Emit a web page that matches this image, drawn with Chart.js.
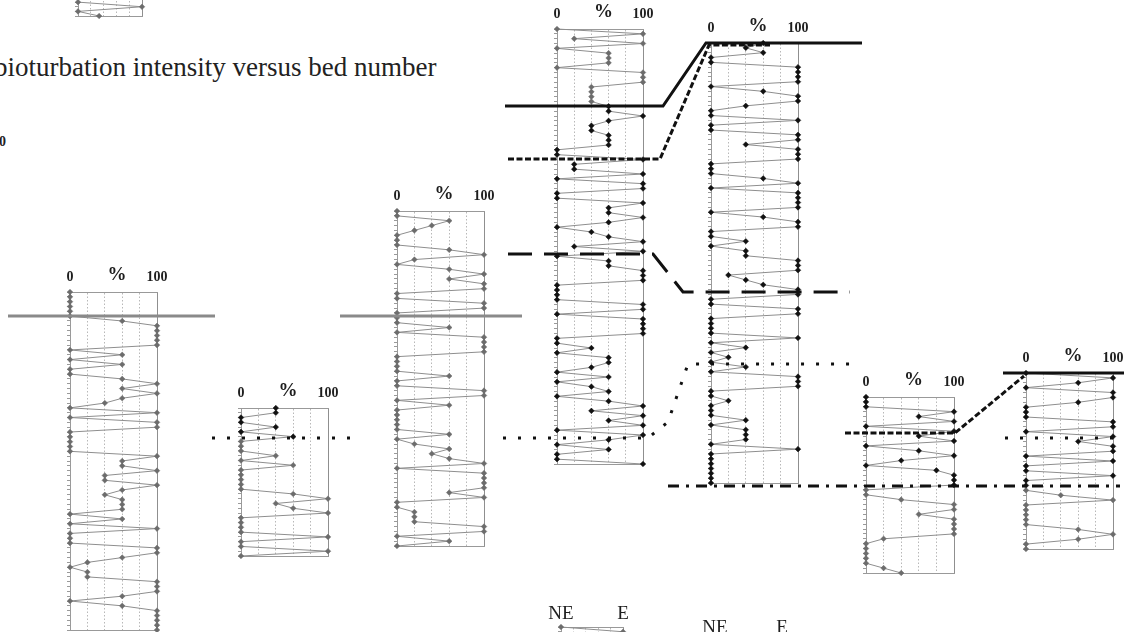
<!DOCTYPE html>
<html>
<head>
<meta charset="utf-8">
<script src="https://cdn.jsdelivr.net/npm/chart.js@4.4.0/dist/chart.umd.min.js"></script>
<style>
  body { margin: 0; background: #fff; }
  #page { position: relative; width: 1126px; height: 632px; overflow: hidden; background: #fff; }
  .panel { position: absolute; }
  #overlay { position: absolute; left: 0; top: 0; z-index: 5; pointer-events: none; }
  .txt { position: absolute; font-family: 'Liberation Serif', serif; color: #222; white-space: nowrap; }
</style>
</head>
<body>
<div id="page">
  <div class="txt" style="left:-6px; top:54px; font-size:27px; line-height:27px;">bioturbation intensity versus bed number</div>
  <div class="txt" style="left:-1px; top:135px; font-size:14px; line-height:14px; font-weight:bold;">0</div>
  <canvas id="overlay" width="1126" height="632"></canvas>
</div>
<script>
// bioturbation % per bed, top bed first
var bed1 = [0,0,0,0,0,0, 60,100,100,100,100,100, 0,60,0,60,0,0, 60,100,60,100,60,40,
  0,100,0,100,100, 0,0,0,0,0, 100,60,60,100,40,40, 100,60,40,60,60,60, 0,60,0,100,0,0,
  0,100,100,60,20,0, 20,20,100,100,100,60, 0,60,100,100,100,100, 100]
var bed2 = [40,40,0,0,40,0,60,0,0,0,40,0,60,0,0,0,0,0,60,100,40,60,100,0,0,0,0,100,0,0,100,0]
var bed3 = [0,0,60,40,20,0,0,0,60,100, 20,0,60,100,60,100,100,0,0,100, 100,0,0,0,60,0,100,100,100,100,
  0,0,0,0,60,0,0,100,100,0, 60,0,0,0,0,0,60,0,20,60, 40,60,100,0,100,100,100,100,60,100,
  0,0,20,20,20,100,100,0,60,0]
var bed4 = [0,100,20,100,0,60,60,60,0,100,100, 100,40,40,40,40,60,60,100,60,40,
  40,60,60,60,0,0,100,20,20,100, 0,100,100,0,0,100,60,60,100,60, 0,40,60,100,20,100,0,60,60,100,
  100,100,0,0,0,0,100,100,0,100, 100,100,100,0,0,40,0,60,60,40, 0,60,0,40,60,0,60,100,40,100,
  60,100,0,100,60,0,60,0,0,100]
var bed5 = [60,40,60,0,0,100,100,100,100,0, 60,100,100,40,0,0,100,0,0,100, 100,40,100,100,100,0,0,0,60,100,
  0,100,100,100,100,0,60,100,100,0, 0,40,0,40,40,100,100,100,20,40, 60,100,100,0,0,100,100,0,0,0,
  0,100,0,40,0,20,0,40,0,100, 100,100,0,0,20,0,0,0,40,0, 40,40,40,0,100,0,0,0,0,0, 0,0]
var bed6 = [0,0,0,100,60,100,0,100,60,100, 0,60,100,40,0,80,100,100,100,0, 0,40,100,100,60,100,100,100,100,20,
  0,0,0,0,0,20,40]
var bed7 = [0,100,60,0,100,100,60,0,0,0, 100,100,0,100,60,100,100,0,100,0, 0,100,0,0,0,40,100,0,0,0,
  0,0,60,100,60,0,0]
var bedCutTop = [0,100,0,33]
var bedCutBottom = [0,100]

// tick labels along the top of each log
var pctLabels = ['0', '%', '100']
var sideLabels = ['NE', '', 'E']
var tickValues = [0, 20, 40, 54, 60, 80, 100]

// correlation lines, in page units (x across, y down)
var corrSolidUpper = [[505,106],[663,106],[706,43],[862,43]]
var corrShortDashUpper = [[508,159],[660,159],[709,45],[770,45]]
var corrLongDash = [[508,254],[653,254],[683,292],[850,292]]
var corrGrayLeft = [[8,316],[215,316]]
var corrGrayMid = [[340,316],[522,316]]
var corrDotsLeft = [[212,438],[356,438]]
var corrDotsMid = [[503,438],[648,438],[668,422],[688,364],[856,364]]
var corrDotsRight = [[1005,438],[1120,438]]
var corrShortDashLower = [[845,433],[955,433],[1024,376]]
var corrSolidLower = [[1003,373],[1124,373]]
var corrDashDot = [[668,486],[1120,486]]

Chart.defaults.font.family = "'Liberation Serif', serif"

var PAD_L = 14, PAD_R = 18, PAD_B = 6, AXIS_W = 4, AXIS_H = 36
var page = document.getElementById('page')
var overlay = document.getElementById('overlay')

var pctFont = function (ctx) {
    if (ctx.tick && ctx.tick.value == 54) return { family: "'Liberation Serif', serif", size: 19, weight: 'bold' }
    return { family: "'Liberation Serif', serif", size: 14, weight: 'bold' }
}
var sideFont = function () { return { family: "'Liberation Serif', serif", size: 19 } }

function gridColor(ctx) {
    var v = ctx.tick ? ctx.tick.value : -1
    if (v == 100) return '#8f8f8f'
    if (v == 20 || v == 40 || v == 60 || v == 80) return '#b8b8b8'
    return 'rgba(0,0,0,0)'
}
function gridDash(ctx) {
    var v = ctx.tick ? ctx.tick.value : -1
    if (v == 100 || v < 0) return []
    return [1.5, 2]
}

function addLog(p) {
    var yMin = p.yMin != null ? p.yMin : 0
    var yMax = p.yMax != null ? p.yMax : p.values.length - 1
    var cv = document.createElement('canvas')
    cv.className = 'panel'
    cv.width = Math.round(PAD_L + AXIS_W + p.width + PAD_R)
    cv.height = Math.round(AXIS_H + p.height + PAD_B)
    cv.style.left = (p.left - PAD_L - AXIS_W) + 'px'
    cv.style.top = (p.top - AXIS_H) + 'px'
    page.insertBefore(cv, overlay)

    var pts = p.values.map(function (v, i) { return { x: v, y: i } })
    var beds = []
    for (var b = Math.ceil(yMin); b <= yMax; b++) beds.push({ value: b })
    var markColor = function (ctx) {
        return (ctx.dataIndex >= p.dark[0] && ctx.dataIndex <= p.dark[1]) ? '#111' : '#6c6c6c'
    }

    new Chart(cv, {
        type: 'scatter',
        data: {
            datasets: [{
                data: pts,
                showLine: true,
                borderColor: '#8e8e8e',
                borderWidth: 1,
                pointStyle: 'rectRot',
                pointRadius: 2.8,
                pointBackgroundColor: markColor,
                pointBorderColor: markColor,
                pointBorderWidth: 0.5,
                clip: false
            }]
        },
        options: {
            responsive: false,
            animation: false,
            events: [],
            layout: { padding: { left: PAD_L, right: PAD_R, top: 0, bottom: PAD_B } },
            plugins: { legend: { display: false }, tooltip: { enabled: false } },
            scales: {
                x: {
                    type: 'linear', position: 'top', min: 0, max: 100,
                    afterBuildTicks: function (s) { s.ticks = tickValues.map(function (v) { return { value: v } }) },
                    afterFit: function (s) { s.height = AXIS_H; s.paddingLeft = 0; s.paddingRight = 0 },
                    ticks: {
                        autoSkip: false, maxRotation: 0, minRotation: 0, crossAlign: 'near',
                        padding: p.labelPad, color: '#1e1e1e', font: p.font,
                        callback: function (v) {
                            if (v == 0) return p.labels[0]
                            if (v == 54) return p.labels[1]
                            if (v == 100) return p.labels[2]
                            return ''
                        }
                    },
                    grid: { drawTicks: false, color: gridColor, lineWidth: 1 },
                    border: { display: true, color: '#999', width: 1, dash: gridDash }
                },
                xb: {
                    type: 'linear', axis: 'x', position: 'bottom', min: 0, max: 100,
                    afterFit: function (s) { s.height = 0 },
                    ticks: { display: false },
                    grid: { display: false },
                    border: { display: true, color: '#999', width: 1 }
                },
                y: {
                    type: 'linear', reverse: true, min: yMin, max: yMax,
                    afterBuildTicks: function (s) { s.ticks = beds },
                    afterFit: function (s) { s.width = AXIS_W },
                    ticks: { display: false },
                    grid: { drawOnChartArea: false, drawTicks: true, tickLength: 3, color: '#9a9a9a' },
                    border: { color: '#9a9a9a', width: 1 }
                }
            }
        }
    })
}

var logs = [
    { values: bed1, left: 70, top: 292, width: 87, height: 338, dark: [-1, -1] },
    { values: bed2, left: 241, top: 408, width: 87, height: 148, dark: [0, 6] },
    { values: bed3, left: 397, top: 211, width: 87, height: 335, dark: [-1, -1] },
    { values: bed4, left: 557, top: 29, width: 85.5, height: 435, dark: [16, 200] },
    { values: bed5, left: 711, top: 43, width: 87, height: 440, dark: [0, 200] },
    { values: bed6, left: 866, top: 397, width: 88, height: 176, dark: [0, 18] },
    { values: bed7, left: 1026, top: 373, width: 87, height: 176, dark: [0, 23] }
]
logs.forEach(function (p) {
    p.labels = pctLabels; p.font = pctFont; p.labelPad = 6
    addLog(p)
})
// cut-off logs at the page edges
addLog({ values: bedCutTop, yMin: -5, yMax: 3, left: 78, top: -21, width: 64, height: 36.8,
    dark: [-1, -1], labels: pctLabels, font: pctFont, labelPad: 6 })
addLog({ values: bedCutBottom, yMin: 0, yMax: 4, left: 561, top: 627, width: 62, height: 19.2,
    dark: [-1, -1], labels: sideLabels, font: sideFont, labelPad: 2 })
addLog({ values: [], yMin: 0, yMax: 4, left: 715, top: 641, width: 67, height: 19.2,
    dark: [-1, -1], labels: sideLabels, font: sideFont, labelPad: 2 })

var corrStyles = [
    { pts: corrSolidUpper, color: '#111', dash: [] },
    { pts: corrShortDashUpper, color: '#111', dash: [6, 2.5] },
    { pts: corrLongDash, color: '#111', dash: [24, 12] },
    { pts: corrGrayLeft, color: '#8a8a8a', dash: [] },
    { pts: corrGrayMid, color: '#8a8a8a', dash: [] },
    { pts: corrDotsLeft, color: '#111', dash: [3, 12] },
    { pts: corrDotsMid, color: '#111', dash: [3, 12] },
    { pts: corrDotsRight, color: '#111', dash: [3, 12] },
    { pts: corrShortDashLower, color: '#111', dash: [6, 2.5] },
    { pts: corrSolidLower, color: '#111', dash: [] },
    { pts: corrDashDot, color: '#111', dash: [11, 7, 3, 7] }
]

new Chart(overlay, {
    type: 'scatter',
    data: {
        datasets: corrStyles.map(function (c) {
            return {
                data: c.pts.map(function (q) { return { x: q[0], y: q[1] } }),
                showLine: true, pointRadius: 0, borderColor: c.color, borderWidth: 3,
                borderDash: c.dash, clip: false
            }
        })
    },
    options: {
        responsive: false,
        animation: false,
        events: [],
        layout: { padding: 0 },
        plugins: { legend: { display: false }, tooltip: { enabled: false } },
        scales: {
            x: { type: 'linear', display: false, min: 0, max: 1126 },
            y: { type: 'linear', display: false, reverse: true, min: 0, max: 632 }
        }
    }
})
</script>
</body>
</html>
